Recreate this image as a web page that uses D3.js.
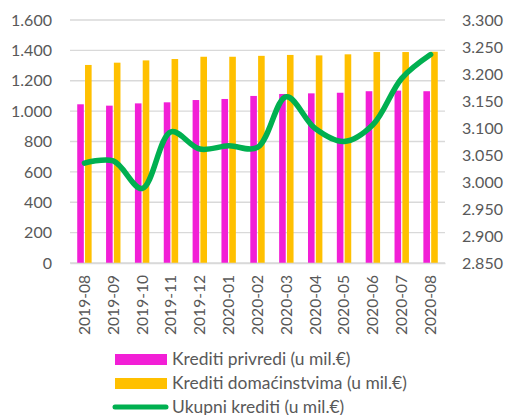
<!DOCTYPE html>
<html><head><meta charset="utf-8">
<script src="https://cdn.jsdelivr.net/npm/d3@7"></script>
<style>body{margin:0;background:#fff;}</style>
</head><body><svg id="c" width="508" height="415"></svg>
<script>
const categories = ["2019-08","2019-09","2019-10","2019-11","2019-12","2020-01","2020-02","2020-03","2020-04","2020-05","2020-06","2020-07","2020-08"];
const privredi = [1045,1036,1051,1058,1073,1080,1100,1113,1117,1121,1131,1135,1131];
const domacinstva = [1304,1319,1334,1343,1358,1358,1364,1370,1367,1374,1389,1389,1391];
const ukupno = [3.035,3.039,2.988,3.093,3.061,3.067,3.064,3.158,3.099,3.075,3.106,3.192,3.236];
const leftTicks = [0,200,400,600,800,1000,1200,1400,1600];
const rightTicks = [2.85,2.9,2.95,3.0,3.05,3.1,3.15,3.2,3.25,3.3];
const seriesNames = ["Krediti privredi (u mil.€)","Krediti domaćinstvima (u mil.€)","Ukupni krediti (u mil.€)"];

const FONT = "Lato, 'Open Sans', sans-serif";
const svg = d3.select("#c");
function fit(str, w){
  const t = svg.append("text").style("font-family",FONT).style("font-size","100px").text(str);
  const len = t.node().getComputedTextLength(); t.remove();
  return 100*w/len;
}
const fsY = fit("1.600",41), fsX = fit("2019-08",60), fsLg = fit(seriesNames[1],235);

const L = 70, R = 445, T = 20, B = 263;
const fmtL = v => d3.format(",")(v).replace(/,/g,".");
const x = d3.scaleBand().domain(categories).range([L,R]).padding(0);
const yL = d3.scaleLinear().domain([0,1600]).range([B,T]);
const yR = d3.scaleLinear().domain([2.85,3.3]).range([B,T]);
const txt = "#595959";

svg.append("g").selectAll("line").data(leftTicks).join("line")
  .attr("x1",L).attr("x2",R).attr("y1",d=>yL(d)).attr("y2",d=>yL(d))
  .attr("stroke","#d9d9d9").attr("stroke-width",1.3);

const ga = svg.append("g").attr("transform",`translate(${L},0)`)
  .call(d3.axisLeft(yL).tickValues(leftTicks).tickFormat(fmtL).tickSize(0).tickPadding(18));
ga.select(".domain").remove();
ga.selectAll("text").attr("fill",txt).style("font-size",fsY+"px").style("font-family",FONT);

const gr = svg.append("g").attr("transform",`translate(${R},0)`)
  .call(d3.axisRight(yR).tickValues(rightTicks).tickFormat(v=>v.toFixed(3)).tickSize(0).tickPadding(17));
gr.select(".domain").remove();
gr.selectAll("text").attr("fill",txt).style("font-size",fsY+"px").style("font-family",FONT);

const bw = 6.6, gap = 1.2;
svg.append("g").selectAll("rect").data(privredi).join("rect")
  .attr("x",(d,i)=>x(categories[i])+x.bandwidth()/2-gap/2-bw)
  .attr("y",d=>yL(d)).attr("width",bw).attr("height",d=>B-yL(d)).attr("fill","#F21FD6");
svg.append("g").selectAll("rect").data(domacinstva).join("rect")
  .attr("x",(d,i)=>x(categories[i])+x.bandwidth()/2+gap/2)
  .attr("y",d=>yL(d)).attr("width",bw).attr("height",d=>B-yL(d)).attr("fill","#FFC000");

const gx = svg.append("g").attr("transform",`translate(0,${B})`)
  .call(d3.axisBottom(x).tickSize(0).tickPadding(0));
gx.select(".domain").attr("stroke","#d9d9d9").attr("stroke-width",1.3);
gx.selectAll("text").attr("fill",txt).style("font-size",fsX+"px").style("font-family",FONT)
  .attr("transform","rotate(-90)").attr("text-anchor","end").attr("dx","-12").attr("dy","0.35em").attr("y",0).attr("x",0);

const line = d3.line().x((d,i)=>x(categories[i])+x.bandwidth()/2).y(d=>yR(d)).curve(d3.curveCatmullRom.alpha(0.5));
svg.append("path").datum(ukupno).attr("d",line).attr("fill","none")
  .attr("stroke","#00B050").attr("stroke-width",5.5).attr("stroke-linecap","round");

const lg = svg.append("g");
const ly = [359,383,407];
lg.append("rect").attr("x",115).attr("y",ly[0]-5).attr("width",52).attr("height",11).attr("fill","#F21FD6");
lg.append("rect").attr("x",115).attr("y",ly[1]-5).attr("width",52).attr("height",11).attr("fill","#FFC000");
lg.append("line").attr("x1",115).attr("x2",166).attr("y1",ly[2]).attr("y2",ly[2]).attr("stroke","#00B050").attr("stroke-width",5).attr("stroke-linecap","round");
lg.selectAll("text").data(seriesNames).join("text")
  .attr("x",172).attr("y",(d,i)=>ly[i]).attr("dy","0.35em").attr("fill",txt)
  .style("font-size",fsLg+"px").style("font-family",FONT).text(d=>d);
</script></body></html>
